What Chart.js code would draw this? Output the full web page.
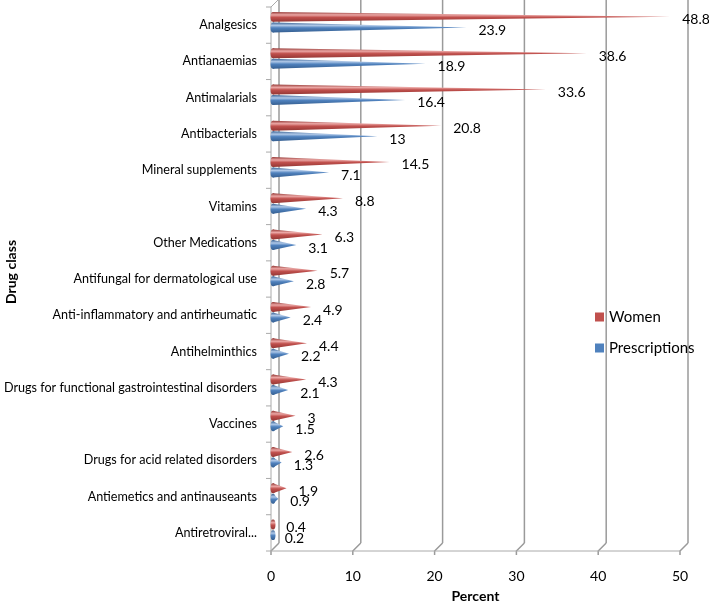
<!DOCTYPE html>
<html>
<head>
<meta charset="utf-8">
<script src="https://cdn.jsdelivr.net/npm/chart.js@4.4.1/dist/chart.umd.min.js"></script>
<style>
  html, body { margin: 0; padding: 0; background: #fff; }
  #wrap { width: 709px; height: 604px; position: relative; }
</style>
</head>
<body>
<div id="wrap"><canvas id="myCanvas"></canvas></div>
<script>
var drugClasses = ['Analgesics', 'Antianaemias', 'Antimalarials', 'Antibacterials', 'Mineral supplements',
    'Vitamins', 'Other Medications', 'Antifungal for dermatological use', 'Anti-inflammatory and antirheumatic',
    'Antihelminthics', 'Drugs for functional gastrointestinal disorders', 'Vaccines',
    'Drugs for acid related disorders', 'Antiemetics and antinauseants', 'Antiretroviral...'];
var women = [48.8, 38.6, 33.6, 20.8, 14.5, 8.8, 6.3, 5.7, 4.9, 4.4, 4.3, 3, 2.6, 1.9, 0.4];
var prescriptions = [23.9, 18.9, 16.4, 13, 7.1, 4.3, 3.1, 2.8, 2.4, 2.2, 2.1, 1.5, 1.3, 0.9, 0.2];
var xTicks = [0, 10, 20, 30, 40, 50];

var FONT = 'Lato, "Open Sans", sans-serif';
var DX = 8, DY = 8; // depth of the 3d box

// red / blue shades: dark, main, light
var shades = [
    ['#943734', '#C0504D', '#EBA7A5'],
    ['#365F91', '#4F81BD', '#AFC8E8']
];

function drawCone(ctx, el, sh) {
    var tip = el.x, base = el.base + 2;
    var h = el.height, y = el.y - 3;
    if (tip - base < 1) tip = base + 1;
    var g = ctx.createLinearGradient(0, y - h / 2, 0, y + h / 2);
    g.addColorStop(0, sh[0]);
    g.addColorStop(0.3, sh[2]);
    g.addColorStop(0.55, sh[1]);
    g.addColorStop(1, sh[0]);
    ctx.fillStyle = g;
    ctx.beginPath();
    ctx.moveTo(base, y - h / 2);
    ctx.lineTo(tip, y);
    ctx.lineTo(base, y + h / 2);
    ctx.closePath();
    ctx.fill();
    ctx.beginPath();
    ctx.ellipse(base, y, Math.min(2.5, h * 0.25), h / 2, 0, 0, Math.PI * 2);
    ctx.fill();
}

var boxPlugin = {
    id: 'box3d',
    beforeDatasetsDraw: function(chart) {
        var ctx = chart.ctx, a = chart.chartArea;
        var xs = chart.scales.x;
        ctx.save();
        ctx.strokeStyle = '#9a9a9a';
        ctx.lineWidth = 1.5;
        // back wall gridlines
        xTicks.forEach(function(v) {
            var px = xs.getPixelForValue(v);
            ctx.beginPath();
            ctx.moveTo(px + DX, a.bottom - DY);
            ctx.lineTo(px + DX, 0);
            ctx.stroke();
            // floor diagonal
            ctx.beginPath();
            ctx.moveTo(px, a.bottom + 4);
            ctx.lineTo(px, a.bottom);
            ctx.lineTo(px + DX, a.bottom - DY);
            ctx.stroke();
        });
        ctx.lineWidth = 1;
        ctx.strokeStyle = '#aaaaaa';
        // floor front edge
        ctx.beginPath();
        ctx.moveTo(a.left, a.bottom);
        ctx.lineTo(a.right, a.bottom);
        ctx.stroke();
        // side wall front edge and top
        ctx.beginPath();
        ctx.moveTo(a.left, a.bottom);
        ctx.lineTo(a.left, a.top);
        ctx.lineTo(a.left + DX, a.top - DY);
        ctx.stroke();
        // category tick marks
        var n = drugClasses.length;
        var step = (a.bottom - a.top) / n;
        for (var i = 0; i <= n; i++) {
            var py = a.top + i * step;
            ctx.beginPath();
            ctx.moveTo(a.left - 5, py);
            ctx.lineTo(a.left, py);
            ctx.stroke();
        }
        ctx.restore();
    },
    afterDatasetsDraw: function(chart) {
        var ctx = chart.ctx, a = chart.chartArea;
        ctx.save();
        chart.data.datasets.forEach(function(ds, di) {
            var meta = chart.getDatasetMeta(di);
            meta.data.forEach(function(el) { drawCone(ctx, el, shades[di]); });
        });
        // value labels
        ctx.fillStyle = '#000';
        ctx.font = '14px ' + FONT;
        ctx.textAlign = 'left';
        ctx.textBaseline = 'middle';
        chart.data.datasets.forEach(function(ds, di) {
            var meta = chart.getDatasetMeta(di);
            meta.data.forEach(function(el, i) {
                ctx.fillText(String(ds.data[i]), el.x + 12, el.y);
            });
        });
        // legend
        ctx.font = '15px ' + FONT;
        chart.data.datasets.forEach(function(ds, di) {
            var ly = 317 + di * 31;
            ctx.fillStyle = shades[di][1];
            ctx.fillRect(595, ly - 4.5, 9, 9);
            ctx.fillStyle = '#000';
            ctx.fillText(ds.label, 609, ly);
        });
        // axis titles
        ctx.font = 'bold 14px ' + FONT;
        ctx.textAlign = 'center';
        ctx.fillText('Percent', (a.left + a.right) / 2, 596);
        ctx.translate(11, 272);
        ctx.rotate(-Math.PI / 2);
        ctx.fillText('Drug class', 0, 0);
        ctx.restore();
    }
};

var ctx = document.getElementById('myCanvas').getContext('2d');
var chart = new Chart(ctx, {
    type: 'bar',
    data: {
        labels: drugClasses,
        datasets: [{
            label: 'Women',
            data: women,
            backgroundColor: 'rgba(0,0,0,0)'
        }, {
            label: 'Prescriptions',
            data: prescriptions,
            backgroundColor: 'rgba(0,0,0,0)'
        }]
    },
    options: {
        indexAxis: 'y',
        responsive: true,
        maintainAspectRatio: false,
        animation: false,
        categoryPercentage: 0.58,
        barPercentage: 0.95,
        layout: { padding: { left: 3, right: 29, top: 7, bottom: 0 } },
        plugins: {
            legend: { display: false },
            tooltip: { enabled: false }
        },
        scales: {
            x: {
                min: 0,
                max: 50,
                ticks: { stepSize: 10, padding: 17, color: '#000', font: { family: FONT, size: 14 } },
                grid: { display: false, drawTicks: false },
                border: { display: false },
                afterFit: function(scale) { scale.height = 53; scale.paddingLeft = 0; scale.paddingRight = 0; }
            },
            y: {
                ticks: { padding: 14, color: '#000', autoSkip: false, font: { family: FONT, size: 12.6 } },
                grid: { display: false, drawTicks: false },
                border: { display: false },
                afterFit: function(scale) { scale.width = 268; scale.paddingTop = 0; scale.paddingBottom = 0; }
            }
        }
    },
    plugins: [boxPlugin]
});
</script>
</body>
</html>
